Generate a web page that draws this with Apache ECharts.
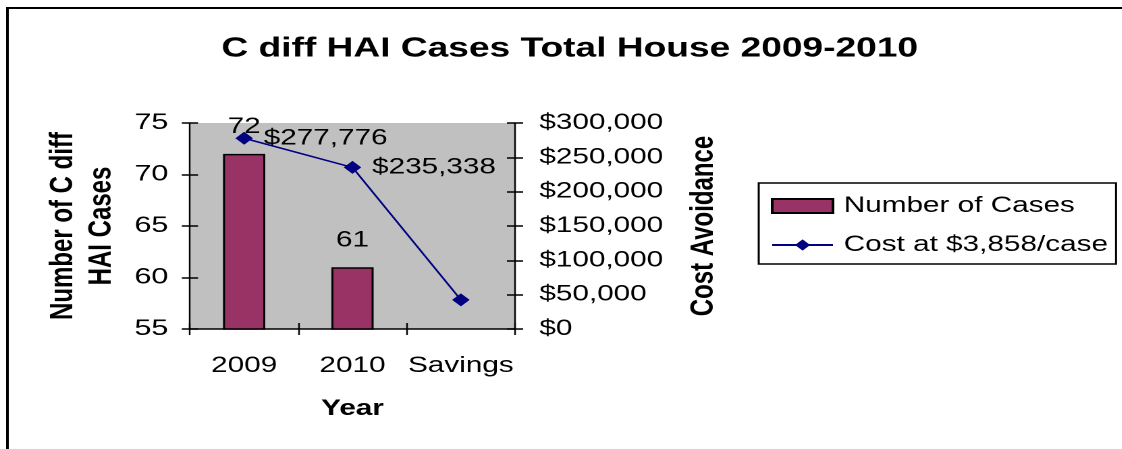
<!DOCTYPE html>
<html>
<head>
<meta charset="utf-8">
<script src="https://cdn.jsdelivr.net/npm/echarts@6/dist/echarts.min.js"></script>
<style>
  html, body { margin: 0; padding: 0; background: #fff; overflow: hidden; }
  #wrap { width: 1122px; height: 449px; overflow: hidden; position: relative; }
  #chart { width: 831px; height: 449px; transform: scaleX(1.35); transform-origin: 0 0; }
</style>
</head>
<body>
<div id="wrap"><div id="chart"></div></div>
<script>
const titleText = 'C diff HAI Cases Total House 2009-2010';
const categories = ['2009', '2010', 'Savings'];
const caseCounts = [72, 61, null];
const costValues = [277776, 235338, 42438];
const casesTicks = { min: 55, max: 75, interval: 5 };
const costTicks = { min: 0, max: 300000, interval: 50000 };
const leftAxisName = 'Number of C diff\nHAI Cases';
const rightAxisName = 'Cost Avoidance';
const xAxisName = 'Year';
const barSeriesName = 'Number of Cases';
const lineSeriesName = 'Cost at $3,858/case';

const FONT = 'Arial, "Liberation Sans", sans-serif';
const money = v => '$' + String(Math.round(v)).replace(/\B(?=(\d{3})+(?!\d))/g, ',');

const chart = echarts.init(document.getElementById('chart'), null, { devicePixelRatio: 2 });

const gridBox = { left: 140.7, top: 123, width: 240.8, height: 206 };
const tickLen = 6;

const option = {
  animation: false,
  backgroundColor: '#ffffff',
  textStyle: { fontFamily: FONT },
  title: {
    text: titleText,
    left: 164,
    top: 35,
    padding: 0,
    textStyle: { fontFamily: FONT, fontSize: 27.5, fontWeight: 'bold', color: '#000' }
  },
  graphic: [{
    type: 'polyline',
    silent: true,
    shape: { points: [[5.5, 460], [5.5, 8], [840, 8]] },
    style: { stroke: '#000', lineWidth: 2, fill: null }
  }],
  legend: {
    orient: 'vertical',
    left: 562,
    top: 183,
    padding: [12, 6, 8, 9],
    itemGap: 17,
    itemWidth: 45,
    itemHeight: 14,
    borderColor: '#000',
    borderWidth: 1.5,
    textStyle: { fontFamily: FONT, fontSize: 22, color: '#000', padding: [0, 0, 0, 3] },
    data: [{ name: barSeriesName, icon: 'rect' }, { name: lineSeriesName }]
  },
  grid: Object.assign({ show: true, backgroundColor: '#C0C0C0', borderWidth: 0 }, gridBox),
  xAxis: [{
    type: 'category',
    data: categories,
    position: 'bottom',
    name: xAxisName,
    nameLocation: 'middle',
    nameGap: 69,
    nameTextStyle: { fontFamily: FONT, fontSize: 22, fontWeight: 'bold', color: '#000' },
    axisLine: { lineStyle: { color: '#000', width: 1.5 } },
    axisTick: { show: true, length: tickLen, lineStyle: { color: '#000', width: 1.2 } },
    axisLabel: { interval: 0, hideOverlap: false, margin: 26, fontFamily: FONT, fontSize: 22, color: '#000' },
    splitLine: { show: false }
  }, {
    type: 'category',
    data: categories,
    position: 'bottom',
    axisLine: { show: false },
    axisTick: { show: true, inside: true, length: tickLen, lineStyle: { color: '#000', width: 1.2 } },
    axisLabel: { show: false },
    splitLine: { show: false }
  }],
  yAxis: [{
    type: 'value',
    position: 'left',
    min: casesTicks.min, max: casesTicks.max, interval: casesTicks.interval,
    name: leftAxisName,
    nameLocation: 'middle',
    nameGap: 51,
    nameTextStyle: { fontFamily: FONT, fontSize: 24, fontWeight: 'bold', color: '#000', lineHeight: 28.5, align: 'center' },
    axisLine: { show: true, lineStyle: { color: '#000', width: 1.2 } },
    axisTick: { show: true, length: tickLen, lineStyle: { color: '#000', width: 1.5 } },
    axisLabel: { margin: 16, fontFamily: FONT, fontSize: 22.5, color: '#000' },
    splitLine: { show: false }
  }, {
    type: 'value',
    position: 'right',
    min: costTicks.min, max: costTicks.max, interval: costTicks.interval,
    name: rightAxisName,
    nameLocation: 'middle',
    nameGap: 128,
    nameTextStyle: { fontFamily: FONT, fontSize: 24, fontWeight: 'bold', color: '#000' },
    axisLine: { show: true, lineStyle: { color: '#000', width: 1.2 } },
    axisTick: { show: true, length: tickLen, lineStyle: { color: '#000', width: 1.5 } },
    axisLabel: { margin: 18, fontFamily: FONT, fontSize: 22, color: '#000', formatter: money },
    splitLine: { show: false }
  }, {
    type: 'value',
    position: 'left',
    min: casesTicks.min, max: casesTicks.max, interval: casesTicks.interval,
    axisLine: { show: false },
    axisTick: { show: true, inside: true, length: tickLen, lineStyle: { color: '#000', width: 1.5 } },
    axisLabel: { show: false },
    splitLine: { show: false }
  }, {
    type: 'value',
    position: 'right',
    min: costTicks.min, max: costTicks.max, interval: costTicks.interval,
    axisLine: { show: false },
    axisTick: { show: true, inside: true, length: tickLen, lineStyle: { color: '#000', width: 1.5 } },
    axisLabel: { show: false },
    splitLine: { show: false }
  }],
  series: [{
    name: barSeriesName,
    type: 'bar',
    xAxisIndex: 0,
    yAxisIndex: 0,
    data: caseCounts,
    barWidth: '39%',
    itemStyle: { color: '#993366', borderColor: '#000', borderWidth: 1.5 },
    label: { show: true, position: 'top', distance: 16, fontFamily: FONT, fontSize: 22, color: '#000' },
    z: 2
  }, {
    name: lineSeriesName,
    type: 'line',
    xAxisIndex: 0,
    yAxisIndex: 1,
    data: costValues.map((v, i) => (i < 2 ? v : { value: v, label: { show: false } })),
    symbol: 'diamond',
    symbolSize: 13,
    lineStyle: { color: '#000080', width: 1.5 },
    itemStyle: { color: '#000080' },
    label: { show: true, position: 'right', distance: 8, fontFamily: FONT, fontSize: 22, color: '#000', formatter: p => money(p.value) },
    z: 3
  }]
};

chart.setOption(option);
</script>
</body>
</html>
